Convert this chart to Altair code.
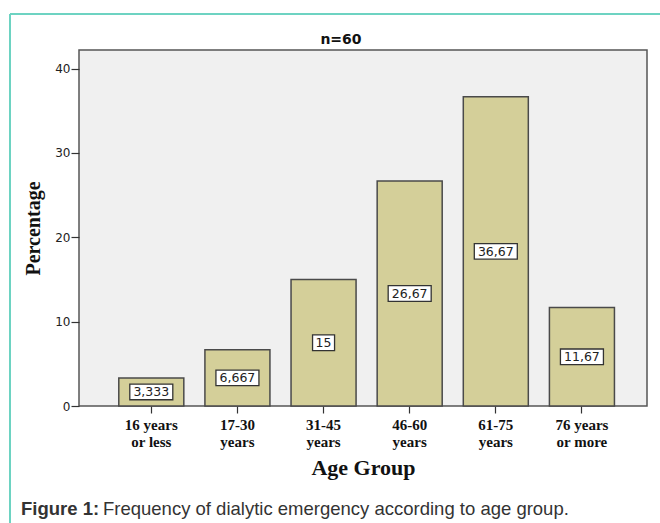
import altair as alt
import pandas as pd

categories = ["16 years\nor less", "17-30\nyears", "31-45\nyears",
              "46-60\nyears", "61-75\nyears", "76 years\nor more"]
percentages = [3.333, 6.667, 15.0, 26.67, 36.67, 11.67]
value_labels = ["3,333", "6,667", "15", "26,67", "36,67", "11,67"]
y_ticks = [0, 10, 20, 30, 40]

title_text = "n=60"
x_title = "Age Group"
y_title = "Percentage"
caption_bold = "Figure 1:"
caption_rest = "Frequency of dialytic emergency according to age group."

W, H = 568, 356
PAD_L, PAD_T, PAD_R, PAD_B = 79, 50, 13, 117


def box_path(label):
    hw = (7 * len(label) + 8) / 20.0
    return f"M{-hw},-0.78H{hw}V0.78H{-hw}Z"


df = pd.DataFrame({
    "cat": categories,
    "pct": percentages,
    "lbl": value_labels,
})
df["box"] = [box_path(l) for l in value_labels]

xscale = alt.Scale(domain=categories, paddingInner=0.245, paddingOuter=0.42, align=0.55)
yscale = alt.Scale(domain=[0, 42.2], nice=False)

x_enc = alt.X("cat:N", scale=xscale, sort=categories,
              axis=alt.Axis(title=x_title, labelAngle=0,
                            labelExpr="split(datum.label, '\\n')",
                            labelFont="Liberation Serif", labelFontWeight="bold",
                            labelFontSize=15, labelColor="#111", labelLineHeight=17,
                            labelPadding=4,
                            tickSize=7, tickColor="#333", tickWidth=1.2,
                            domain=False,
                            titleFont="Liberation Serif", titleFontWeight="bold",
                            titleFontSize=22, titleColor="#111", titlePadding=8))

base = alt.Chart(df)

bars = base.mark_bar(fill="#D4CF99", stroke="#4a4a4a", strokeWidth=1.5).encode(
    x=x_enc,
    y=alt.Y("pct:Q", scale=yscale,
            axis=alt.Axis(title=y_title, values=y_ticks, grid=False, domain=False,
                          labelFont="DejaVu Sans", labelFontSize=12, labelColor="#222",
                          labelPadding=1, tickSize=8, tickColor="#333", tickWidth=1.2,
                          titleFont="Liberation Serif", titleFontWeight="bold",
                          titleFontSize=20, titleColor="#111", titlePadding=11)),
)

boxes = base.transform_calculate(mid="datum.pct / 2").mark_point(
    filled=True, fill="white", stroke="#333", strokeWidth=1.3, opacity=1, size=400
).encode(
    x=alt.X("cat:N", scale=xscale, sort=categories),
    y=alt.Y("mid:Q", scale=yscale),
    shape=alt.Shape("box:N", scale=None, legend=None),
)

texts = base.transform_calculate(mid="datum.pct / 2").mark_text(
    font="DejaVu Sans", fontSize=12.5, color="#222", baseline="middle", dy=0.5
).encode(
    x=alt.X("cat:N", scale=xscale, sort=categories),
    y=alt.Y("mid:Q", scale=yscale),
    text="lbl:N",
)

one = pd.DataFrame({"k": [0]})

title_mark = alt.Chart(one).mark_text(
    text=title_text, font="DejaVu Sans", fontWeight="bold", fontSize=14,
    color="#111", align="center", baseline="middle"
).encode(x=alt.value(W / 2 - 22), y=alt.value(-10))

cap1 = alt.Chart(one).mark_text(
    text=caption_bold, font="Liberation Sans", fontWeight="bold", fontSize=18.5,
    color="#333", align="left", baseline="middle"
).encode(x=alt.value(21 - PAD_L), y=alt.value(509 - PAD_T))

cap2 = alt.Chart(one).mark_text(
    text=caption_rest, font="Liberation Sans", fontSize=18.5,
    color="#333", align="left", baseline="middle"
).encode(x=alt.value(103 - PAD_L), y=alt.value(509 - PAD_T))

border_top = alt.Chart(one).mark_rule(color="#6DD3C2", strokeWidth=2).encode(
    x=alt.value(10 - PAD_L), x2=alt.value(665 - PAD_L), y=alt.value(14 - PAD_T))
border_left = alt.Chart(one).mark_rule(color="#6DD3C2", strokeWidth=2).encode(
    x=alt.value(10 - PAD_L), y=alt.value(14 - PAD_T), y2=alt.value(530 - PAD_T))

chart = alt.layer(
    bars, boxes, texts, title_mark, cap1, cap2, border_top, border_left
).properties(
    width=W, height=H,
    autosize=alt.AutoSizeParams(type="none"),
    padding={"left": PAD_L, "top": PAD_T, "right": PAD_R, "bottom": PAD_B},
    background="white",
).configure_view(
    fill="#F0F0F0", stroke="#555", strokeWidth=1.5
)

chart.save("out.html", embed_options={"renderer": "svg", "actions": False})
